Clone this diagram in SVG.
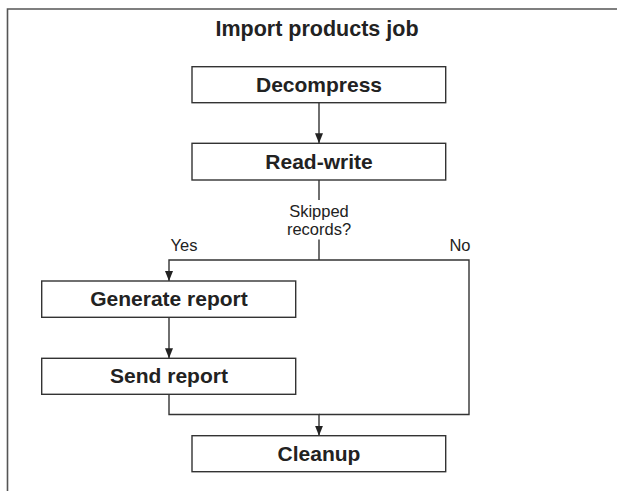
<svg xmlns="http://www.w3.org/2000/svg" width="617" height="491" viewBox="0 0 617 491">
<style>
.frame{fill:none;stroke:#555;stroke-width:1.6}
.box{fill:#fff;stroke:#333;stroke-width:1.4}
.lbl{font-family:"Liberation Sans",Arial,sans-serif;font-weight:bold;font-size:21px;fill:#222;text-anchor:middle}
.title{font-family:"Liberation Sans",Arial,sans-serif;font-weight:bold;font-size:21.5px;fill:#222;text-anchor:middle}
.small{font-family:"Liberation Sans",Arial,sans-serif;font-size:16.5px;fill:#222;text-anchor:middle}
.conn{fill:none;stroke:#333;stroke-width:1.4}
</style>
<defs>
<marker id="arr" viewBox="0 0 10 8" refX="10" refY="4" markerWidth="10" markerHeight="8" markerUnits="userSpaceOnUse" orient="auto">
<path d="M0,0 L10,4 L0,8 z" fill="#222"/>
</marker>
</defs>
<rect width="617" height="491" fill="#fff"/>
<g id="frame">
<path class="frame" d="M7.5,491 V9 H617"/>
<text class="title" x="317" y="35.5">Import products job</text>
</g>
<g id="connectors">
<path class="conn" d="M319,102.7 V143.3" marker-end="url(#arr)"/>
<path class="conn" d="M319,180 V200"/>
<path class="conn" d="M319,239.5 V260"/>
<path class="conn" d="M319,260 H169 V281" marker-end="url(#arr)"/>
<path class="conn" d="M319,260 H469 V414.5 H319"/>
<path class="conn" d="M169,317.3 V358.3" marker-end="url(#arr)"/>
<path class="conn" d="M169,394.3 V414.5 H319 V435.7" marker-end="url(#arr)"/>
<text class="small" x="319" y="216.5">Skipped</text>
<text class="small" x="319" y="235">records?</text>
<text class="small" x="184" y="251">Yes</text>
<text class="small" x="460" y="251">No</text>
</g>
<g id="decompress">
<rect class="box" x="192" y="66.7" width="253.7" height="36"/>
<text class="lbl" x="319" y="91.7">Decompress</text>
</g>
<g id="read-write">
<rect class="box" x="192" y="143.3" width="253.7" height="36.7"/>
<text class="lbl" x="319" y="169">Read-write</text>
</g>
<g id="generate-report">
<rect class="box" x="41.7" y="281" width="254" height="36.3"/>
<text class="lbl" x="169" y="306">Generate report</text>
</g>
<g id="send-report">
<rect class="box" x="41.7" y="358.3" width="254" height="36"/>
<text class="lbl" x="169" y="383.3">Send report</text>
</g>
<g id="cleanup">
<rect class="box" x="192" y="435.7" width="253.7" height="36"/>
<text class="lbl" x="319" y="460.7">Cleanup</text>
</g>
</svg>
